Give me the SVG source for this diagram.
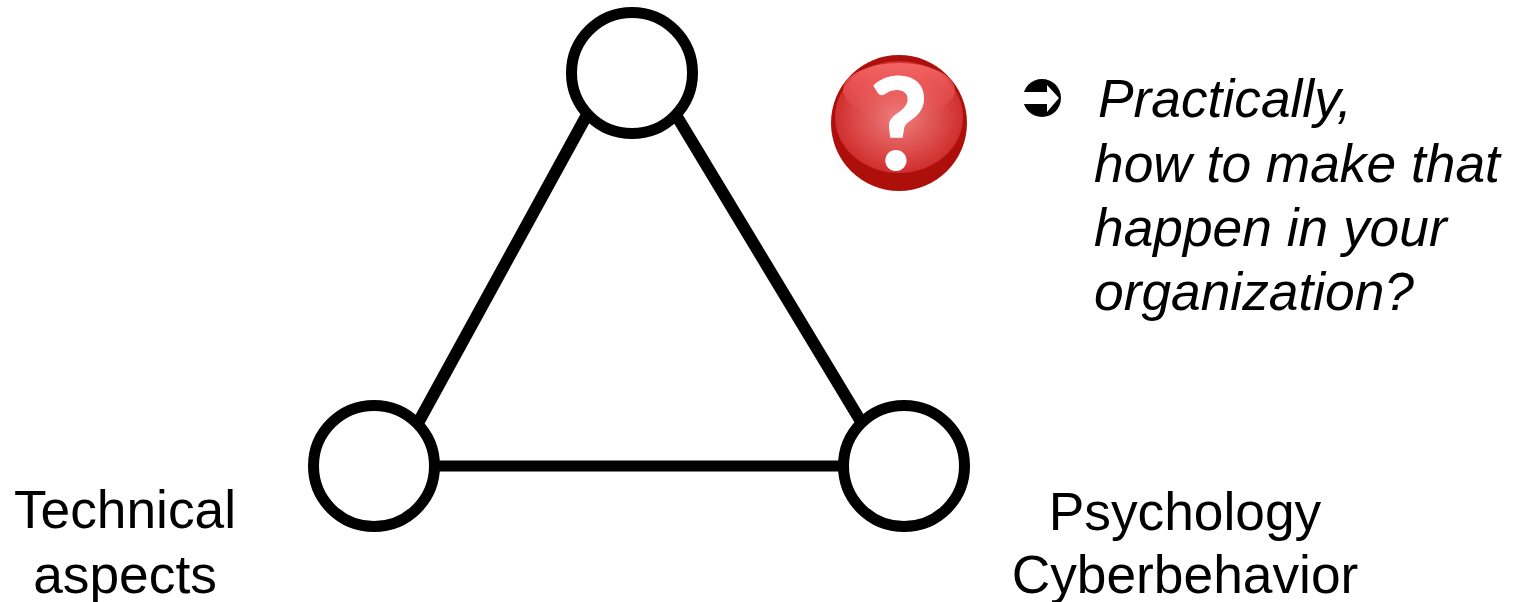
<svg xmlns="http://www.w3.org/2000/svg" width="1520" height="602" viewBox="0 0 1520 602">
<style>
.n{fill:#fff;stroke:#000;stroke-width:11}
.e{stroke:#000;stroke-width:11;fill:none}
.d{stroke-width:12}
.t{font-family:"Liberation Sans",Arial,sans-serif;font-size:53.3px;fill:#000}
.i{font-style:italic}
</style>
<defs>
<radialGradient id="r" cx="0.5" cy="0.5" r="0.55"><stop offset="0" stop-color="#ee8080"/><stop offset="0.6" stop-color="#dc4a4a"/><stop offset="1" stop-color="#cc2626"/></radialGradient>
<linearGradient id="h" x1="0" y1="0" x2="0" y2="1"><stop offset="0" stop-color="#f46464"/><stop offset="1" stop-color="#f46464" stop-opacity="0"/></linearGradient>
</defs>
<rect width="1520" height="602" fill="#fff"/>
<g id="connectors">
<line class="e d" x1="588" y1="113" x2="418" y2="423"/>
<line class="e d" x1="676" y1="115" x2="860" y2="420"/>
<line class="e" x1="435" y1="466" x2="843" y2="466"/>
</g>
<g id="node-top"><circle class="n" cx="632" cy="73" r="60.5"/></g>
<g id="node-left"><circle class="n" cx="374" cy="466" r="60.5"/><text class="t" x="125" y="528" text-anchor="middle">Technical</text><text class="t" x="125" y="593" text-anchor="middle">aspects</text></g>
<g id="node-right"><circle class="n" cx="904" cy="466" r="60.5"/><text class="t" x="1185" y="530" text-anchor="middle">Psychology</text><text class="t" x="1185" y="593" text-anchor="middle">Cyberbehavior</text></g>
<g id="question">
<circle cx="899" cy="123" r="68" fill="#ad0f0b"/>
<ellipse cx="899" cy="117" rx="64" ry="56" fill="url(#r)"/>
<ellipse cx="899" cy="90" rx="56" ry="27" fill="url(#h)"/>
<text x="899" y="169" text-anchor="middle" font-family="Lato,sans-serif" font-weight="700" font-size="126" fill="#fff" stroke="#fff" stroke-width="2" stroke-linejoin="round">?</text>
</g>
<g id="note">
<circle cx="1042" cy="98" r="19" fill="#000"/>
<path d="M1022 92h25v-7l12 13-12 14v-8h-25z" fill="#fff"/>
<text class="t i" x="1098" y="117">Practically,</text>
<text class="t i" x="1094" y="182">how to make that</text>
<text class="t i" x="1094" y="246">happen in your</text>
<text class="t i" x="1094" y="310">organization?</text>
</g>
</svg>
